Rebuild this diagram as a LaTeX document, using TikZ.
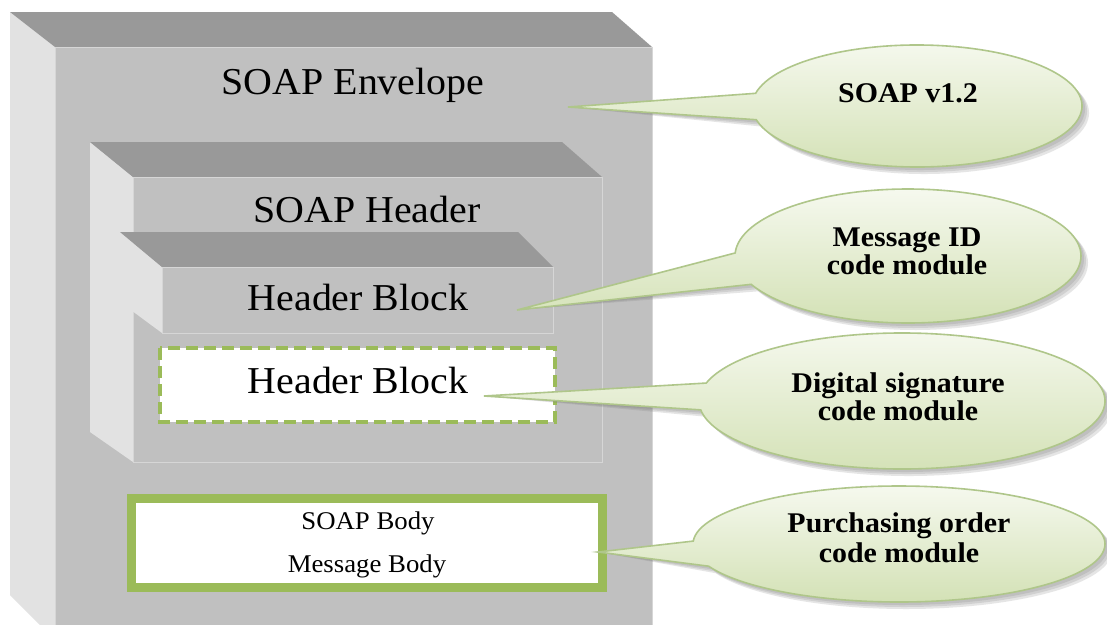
\documentclass[tikz,border=0pt]{standalone}
\usepackage{fontspec}
\setmainfont{Liberation Serif}
\usetikzlibrary{calc}
\definecolor{frontgray}{HTML}{C0C0C0}
\definecolor{topgray}{HTML}{999999}
\definecolor{sidegray}{HTML}{E2E2E2}
\definecolor{edgegray}{HTML}{D6D6D6}
\definecolor{olivegreen}{HTML}{9BBB59}
\definecolor{bubtop}{HTML}{F6F9EF}
\definecolor{bubbot}{HTML}{D3E1B5}
\definecolor{bubline}{HTML}{AFC68A}
\newcommand\calloutpath[7]{% cx cy rx ry tip a1 a2
  (#5) -- ($(#1,#2)+(#6:#3 and #4)$) arc[start angle=#6, end angle=#7, x radius=#3, y radius=#4] -- cycle}
\begin{document}
\begin{tikzpicture}[x=1pt,y=-1pt,
  bigtxt/.style={font=\fontsize{38}{44}\selectfont, xscale=1.05, inner sep=0, anchor=base},
  smalltxt/.style={font=\fontsize{25.5}{30}\selectfont, xscale=1.05, inner sep=0, anchor=base},
  bubtxt/.style={font=\fontsize{28.5}{32}\selectfont\bfseries, xscale=1.05, inner sep=0, anchor=base},
  frontface/.style={fill=frontgray, draw=edgegray, line width=0.8},
  topface/.style={fill=topgray},
  sideface/.style={fill=sidegray},
  bubble/.style={top color=bubtop, bottom color=bubbot, draw=bubline, line width=1.6},
  bubshadow/.style={fill=black!55, opacity=0.18},
]
\useasboundingbox (0,0) rectangle (1107,624);
\clip (0,0) rectangle (1107,624);
\fill[white] (0,0) rectangle (1107,624);

% envelope
\fill[sideface] (10,12) -- (55,47) -- (55,640) -- (10,595) -- cycle;
\fill[topface] (10,12) -- (612,12) -- (652,47) -- (55,47) -- cycle;
\path[frontface] (55,47) rectangle (652,640);

% header
\fill[sideface] (90,142) -- (133,177) -- (133,462) -- (90,432) -- cycle;
\fill[topface] (90,142) -- (562,142) -- (602,177) -- (133,177) -- cycle;
\path[frontface] (133,177) rectangle (602,462);

% header block (gray)
\fill[sideface] (120,232) -- (162,267) -- (162,333) -- (120,302) -- cycle;
\fill[topface] (120,232) -- (518,232) -- (553,267) -- (162,267) -- cycle;
\path[frontface] (162,267) rectangle (553,333);

% header block (dashed)
\draw[olivegreen, line width=3.5, dash pattern=on 12 off 6, fill=white] (160,348) rectangle (555,422);

% body
\draw[olivegreen, line width=9, fill=white] (131.5,498.5) rectangle (602.5,587.5);

% texts
\node[bigtxt] (env) at (353,94) {SOAP Envelope};
\node[bigtxt] (hdr) at (367,222) {SOAP Header};
\node[bigtxt] (hb1) at (358,310) {Header Block};
\node[bigtxt] (hb2) at (358,393) {Header Block};
\node[smalltxt] (body1) at (368,529) {SOAP Body};
\node[smalltxt] (body2) at (367,572) {Message Body};

% callout tips
\coordinate (tip1) at (568,107);
\coordinate (tip2) at (517,310);
\coordinate (tip3) at (484,396);
\coordinate (tip4) at (598,552);

% shadows
\foreach \d in {3,5,7}{
  \path[bubshadow, shift={(\d,\d)}] \calloutpath{917}{106}{165}{61}{tip1}{192}{527};
  \path[bubshadow, shift={(\d,\d)}] \calloutpath{908}{256}{173}{67}{tip2}{182.6}{515};
  \path[bubshadow, shift={(\d,\d)}] \calloutpath{902}{401}{203}{68}{tip3}{195.3}{532.5};
  \path[bubshadow, shift={(\d,\d)}] \calloutpath{899}{544}{206}{58}{tip4}{182.9}{517.5};
}
% bubbles
\path[bubble] \calloutpath{917}{106}{165}{61}{tip1}{192}{527};
\path[bubble] \calloutpath{908}{256}{173}{67}{tip2}{182.6}{515};
\path[bubble] \calloutpath{902}{401}{203}{68}{tip3}{195.3}{532.5};
\path[bubble] \calloutpath{899}{544}{206}{58}{tip4}{182.9}{517.5};

\node[bubtxt] (b1) at (908,102) {SOAP v1.2};
\node[bubtxt] (b2a) at (907,246) {Message ID};
\node[bubtxt] (b2b) at (907,274) {code module};
\node[bubtxt] (b3a) at (898,392) {Digital signature};
\node[bubtxt] (b3b) at (898,420) {code module};
\node[bubtxt] (b4a) at (899,532) {Purchasing order};
\node[bubtxt] (b4b) at (899,562) {code module};
\end{tikzpicture}
\end{document}
